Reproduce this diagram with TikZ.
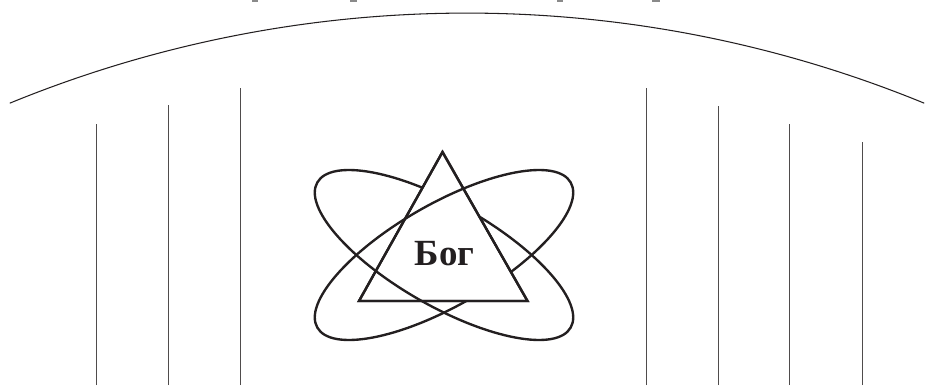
\documentclass[tikz,border=0pt]{standalone}
\usepackage{xcolor}
\usepackage{fontspec}
\setmainfont{Liberation Serif}
\usepackage{tikz}
\usetikzlibrary{positioning,calc}
\definecolor{InkBlack}{HTML}{231F20}
\definecolor{PaleGray}{HTML}{8A8A8A}
\tikzset{
  dome/.style={line width=0.6pt,InkBlack},
  pillar/.style={line width=0.5pt,InkBlack!80},
  orbit/.style={line width=1.35pt,InkBlack},
  trinity/.style={line width=1.35pt,InkBlack,line join=miter,fill=white},
  godname/.style={font=\fontsize{21}{24}\selectfont\bfseries,text=InkBlack,inner sep=0pt,anchor=base},
  stub/.style={fill=PaleGray,draw=none}
}

\begin{document}
\begin{tikzpicture}[x=0.02cm,y=0.02cm]
  \useasboundingbox (0,0) rectangle (925,385);
  % sky arc
  \coordinate (domecentre) at (467,-833);
  \draw[dome] ([shift={(112.3:1205)}]domecentre) arc[start angle=112.3,end angle=67.7,radius=1205];
  % cut-off marks at the top edge
  \foreach \sx/\sw in {252/6,350/7,557/6,652/8}
    \fill[stub] (\sx,383.4) rectangle ++(\sw,1.6);
  % pillars, left and right
  \foreach \px/\py in {96/261,168/280,240/297,646/297,718/279,789/261,862/243}
    \draw[pillar] (\px,0) -- (\px,\py);
  % two orbits, woven through the triangle
  \coordinate (core) at (444,130);
  \coordinate (apex) at (442.5,233);
  \coordinate (baseL) at (359,84);
  \coordinate (baseR) at (527.5,84);
  \draw[orbit,rotate around={-29.8:(core)}] (core) ellipse[x radius=146,y radius=51];
  \draw[orbit,rotate around={29.8:(core)}] (core) ellipse[x radius=146,y radius=51];
  \draw[trinity] (apex) -- (baseL) -- (baseR) -- cycle;
  \begin{scope}
    \clip (apex) -- (baseL) -- (baseR) -- cycle;
    \begin{scope}[rotate around={-29.8:(core)}]
      \clip ($(core)+(-200,0)$) rectangle ($(core)+(200,-100)$);
      \draw[orbit] (core) ellipse[x radius=146,y radius=51];
    \end{scope}
    \begin{scope}[rotate around={29.8:(core)}]
      \clip ($(core)+(-200,0)$) rectangle ($(core)+(200,100)$);
      \draw[orbit] (core) ellipse[x radius=146,y radius=51];
    \end{scope}
  \end{scope}
  \draw[trinity,fill=none] (apex) -- (baseL) -- (baseR) -- cycle;
  \node[godname] (god) at (444.5,119) {Бог};
\end{tikzpicture}
\end{document}
